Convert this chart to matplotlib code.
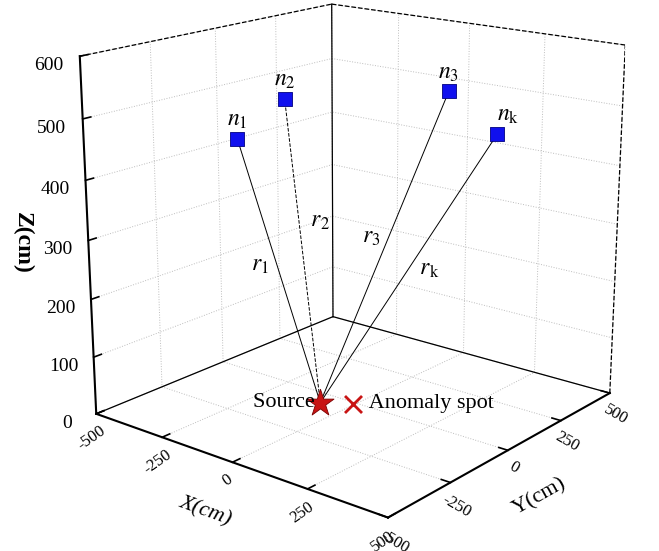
import matplotlib
matplotlib.use("Agg")
import matplotlib.pyplot as plt
import numpy as np

# ---- data (cm) ----
sensor_labels = ["$n_1$", "$n_2$", "$n_3$", r"$n_\mathrm{k}$"]
range_labels = ["$r_1$", "$r_2$", "$r_3$", r"$r_\mathrm{k}$"]
sensor_x = [-47, -10, 255, 420]
sensor_y = [-407, -272, 55, 35]
sensor_z = [500, 550, 550, 500]
line_styles = ["-", "--", "-", "-"]
source_xyz = [-80, -60, 0]
anomaly_xyz = [-5, -10, 0]

xy_ticks = [-500, -250, 0, 250, 500]
z_ticks = [0, 100, 200, 300, 400, 500, 600]

plt.rcParams["font.family"] = ["Liberation Serif", "DejaVu Serif"]
plt.rcParams["mathtext.fontset"] = "stix"

fig = plt.figure(figsize=(6.59, 5.51), dpi=100)
ax = fig.add_subplot(projection="3d", proj_type="persp", focal_length=0.6)
ax.set_position([0.03, 0.065, 1.0, 1.0])
ax.view_init(elev=17, azim=-51)
ax.set_box_aspect((1, 1, 0.98), zoom=1.14)

xmin, xmax = xy_ticks[0], xy_ticks[-1]
zmin, zmax = z_ticks[0], z_ticks[-1]
ax.set_xlim(xmin, xmax)
ax.set_ylim(xmin, xmax)
ax.set_zlim(zmin, zmax)

# panes and grid
for axis in (ax.xaxis, ax.yaxis, ax.zaxis):
    axis.set_pane_color((1, 1, 1, 0))
    axis.pane.set_edgecolor((1, 1, 1, 0))
    axis._axinfo["grid"].update(color="#bdbdbd", linewidth=0.7, linestyle=":")
    axis._axinfo["axisline"]["color"] = "black"
    axis._axinfo["tick"]["inward_factor"] = 0.0
    axis._axinfo["tick"]["outward_factor"] = 0.35
    axis._axinfo["tick"]["linewidth"] = {True: 1.2, False: 0.8}
    axis.line.set_linewidth(1.5)
ax.zaxis.set_ticks_position("lower")
ax.zaxis.set_label_position("lower")

# box edges
ax.plot([xmin, xmin], [xmax, xmax], [zmin, zmax], color="black", lw=0.9)
ax.plot([xmax, xmax], [xmax, xmax], [zmin, zmax], color="black", lw=0.9, ls="--")
ax.plot([xmin, xmax], [xmax, xmax], [zmin, zmin], color="black", lw=0.9)
ax.plot([xmin, xmin], [xmin, xmax], [zmin, zmin], color="black", lw=0.9)
ax.plot([xmin, xmin], [xmin, xmax], [zmax, zmax], color="black", lw=0.9, ls="--")
ax.plot([xmin, xmax], [xmax, xmax], [zmax, zmax], color="black", lw=0.9, ls="--")

# range lines and sensors
for i in range(len(sensor_x)):
    ax.plot([source_xyz[0], sensor_x[i]], [source_xyz[1], sensor_y[i]],
            [source_xyz[2], sensor_z[i]], color="black", lw=0.7, ls=line_styles[i])
ax.scatter(sensor_x, sensor_y, sensor_z, marker="s", s=110, color="#1010ee",
           edgecolors="#000080", linewidths=0.6, depthshade=False)

n_ha = ["center", "center", "center", "left"]
for i in range(len(sensor_x)):
    ax.text(sensor_x[i], sensor_y[i], sensor_z[i] + 12, sensor_labels[i],
            fontsize=17, ha=n_ha[i], va="bottom")

# r labels along each line
r_ha = ["right", "left", "right", "left"]
r_frac = [0.55, 0.62, 0.55, 0.52]
for i in range(len(sensor_x)):
    f = r_frac[i]
    mx = source_xyz[0] + f * (sensor_x[i] - source_xyz[0])
    my = source_xyz[1] + f * (sensor_y[i] - source_xyz[1])
    mz = source_xyz[2] + f * (sensor_z[i] - source_xyz[2])
    pad = "  " if r_ha[i] == "left" else ""
    txt = pad + range_labels[i] + ("  " if r_ha[i] == "right" else "")
    ax.text(mx, my, mz, txt, fontsize=17, ha=r_ha[i], va="center")

ax.scatter([source_xyz[0]], [source_xyz[1]], [source_xyz[2]], marker="*", s=420,
           color="#c81414", edgecolors="#7a0000", linewidths=0.6, depthshade=False)
ax.scatter([anomaly_xyz[0]], [anomaly_xyz[1]], [anomaly_xyz[2]], marker="x", s=150,
           color="#c81414", linewidths=2.0, depthshade=False)
ax.text(source_xyz[0], source_xyz[1], source_xyz[2], "Source ", fontsize=16,
        ha="right", va="center")
ax.text(anomaly_xyz[0], anomaly_xyz[1], anomaly_xyz[2], "   Anomaly spot",
        fontsize=16, ha="left", va="center")

# ticks
ax.set_xticks(xy_ticks)
ax.set_yticks(xy_ticks)
ax.set_zticks(z_ticks)
ax.set_xticklabels([str(t) for t in xy_ticks], rotation=35, fontsize=12)
ax.set_yticklabels([str(t) for t in xy_ticks], rotation=-30, fontsize=12)
ax.set_zticklabels([str(t) for t in z_ticks], fontsize=14)
ax.tick_params(axis="x", pad=-4)
ax.tick_params(axis="y", pad=-4)

ax.set_xlabel("X(cm)", fontsize=16, fontstyle="italic", rotation=-30, labelpad=0)
ax.set_ylabel("Y(cm)", fontsize=16, rotation=55, labelpad=0)
ax.zaxis.set_rotate_label(False)
ax.set_zlabel("Z(cm)", fontsize=17, fontweight="bold", rotation=-90, labelpad=4)

fig.savefig("out.png", dpi=100)
